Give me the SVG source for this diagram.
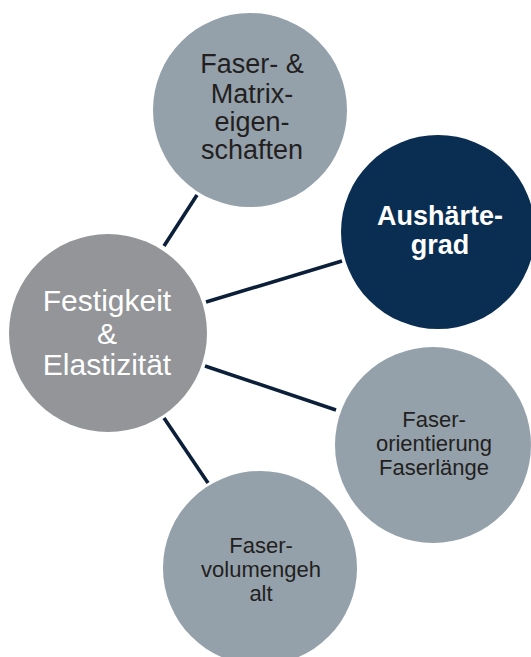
<svg xmlns="http://www.w3.org/2000/svg" width="531" height="657" viewBox="0 0 531 657">
<style>
.c{fill:#94a1ab}
.g{fill:#939598}
.d{fill:#0a2d52}
.t{font-family:"Liberation Sans",Arial,sans-serif;text-anchor:middle}
.dk{fill:#231f20}
.w{fill:#ffffff}
.ln{stroke:#0b1f38;stroke-width:3.6;stroke-linecap:butt;fill:none}
</style>
<rect width="531" height="657" fill="#ffffff"/>
<g id="connectors">
<line class="ln" x1="197" y1="195" x2="164" y2="246"/>
<line class="ln" x1="206" y1="302" x2="342" y2="261"/>
<line class="ln" x1="205" y1="366" x2="336" y2="410"/>
<line class="ln" x1="164" y1="418" x2="208" y2="483"/>
</g>
<g id="node-matrix">
<circle class="c" cx="250" cy="110" r="97"/>
<text class="t dk" font-size="27"><tspan x="252" y="73">Faser- &amp;</tspan><tspan x="252" y="103">Matrix-</tspan><tspan x="252" y="131">eigen-</tspan><tspan x="252" y="159">schaften</tspan></text>
</g>
<g id="node-aushaertegrad">
<circle class="d" cx="438" cy="232" r="97"/>
<text class="t w" font-size="27" font-weight="bold"><tspan x="440" y="225">Aushärte-</tspan><tspan x="440" y="254">grad</tspan></text>
</g>
<g id="node-festigkeit">
<circle class="g" cx="108" cy="333" r="99"/>
<text class="t w" font-size="30"><tspan x="107" y="311">Festigkeit</tspan><tspan x="107" y="344">&amp;</tspan><tspan x="107" y="375">Elastizität</tspan></text>
</g>
<g id="node-orientierung">
<circle class="c" cx="433" cy="445" r="98"/>
<text class="t dk" font-size="22"><tspan x="434" y="427">Faser-</tspan><tspan x="434" y="451">orientierung</tspan><tspan x="434" y="475">Faserlänge</tspan></text>
</g>
<g id="node-volumengehalt">
<circle class="c" cx="260" cy="568" r="97"/>
<text class="t dk" font-size="22"><tspan x="261" y="553">Faser-</tspan><tspan x="261" y="577">volumengeh</tspan><tspan x="261" y="601">alt</tspan></text>
</g>
</svg>
